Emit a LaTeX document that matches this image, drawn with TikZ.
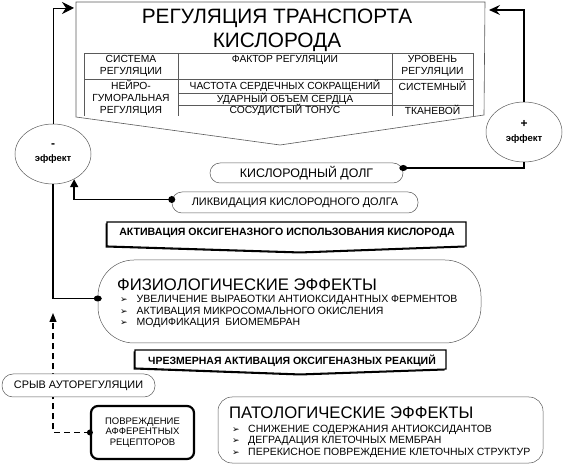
\documentclass[tikz,border=0pt]{standalone}
\usepackage{fontspec}
\setmainfont{Liberation Sans}
\newfontfamily\symfont{DejaVu Sans}
\usetikzlibrary{arrows.meta,positioning,shapes.geometric}
\definecolor{lineGray}{RGB}{90,90,90}
\newcommand{\bul}{{\symfont\fontsize{9}{9}\selectfont\char"27A2}}
\tikzset{
  capsule/.style={draw=lineGray, line width=0.5pt, fill=white, inner sep=0pt},
  effect/.style={draw=lineGray, line width=0.5pt, ellipse, fill=white, minimum width=76pt,
    minimum height=60pt, inner sep=0pt, align=center, font=\bfseries\fontsize{9.5}{14}\selectfont},
  banner/.style={draw=black, line width=1.1pt, fill=white},
  cell/.style={inner sep=0pt, align=center, font=\fontsize{10.3}{12}\selectfont},
  item/.style={inner sep=0pt, anchor=west, font=\fontsize{10.5}{12}\selectfont},
  head/.style={inner sep=0pt, anchor=west, font=\fontsize{16.7}{20}\selectfont},
  link/.style={line width=1.2pt},
  dot/.style={circle, fill=black, inner sep=0pt, minimum size=6pt},
}
\begin{document}
\begin{tikzpicture}[x=1pt,y=-1pt]
  \useasboundingbox (0,0) rectangle (563,465);

  % top banner with table
  \draw[draw=lineGray, line width=0.6pt, fill=white]
    (76,2) -- (485,2) -- (484,115) -- (280,145) -- (76,117) -- cycle;
  \node[inner sep=0pt, align=center, font=\fontsize{20.8}{24}\selectfont] (regtitle) at (277,30)
    {РЕГУЛЯЦИЯ ТРАНСПОРТА\\КИСЛОРОДА};
  \draw[lineGray, line width=0.6pt] (84,116) -- (84,53) -- (473,53) -- (473,116);
  \draw[lineGray, line width=0.6pt] (178,53) -- (178,116) (392,53) -- (392,116);
  \draw[lineGray, line width=0.6pt] (84,79) -- (473,79) (178,93) -- (392,93) (178,105) -- (473,105);
  \node[cell] (sysH) at (131,66) {СИСТЕМА\\РЕГУЛЯЦИИ};
  \node[cell] (facH) at (285,60) {ФАКТОР РЕГУЛЯЦИИ};
  \node[cell] (lvlH) at (432.5,66) {УРОВЕНЬ\\РЕГУЛЯЦИИ};
  \node[cell] (sysA) at (131,98) {НЕЙРО-\\ГУМОРАЛЬНАЯ\\РЕГУЛЯЦИЯ};
  \node[cell] (facA) at (285,86) {ЧАСТОТА СЕРДЕЧНЫХ СОКРАЩЕНИЙ};
  \node[cell] (facB) at (285,98.5) {УДАРНЫЙ ОБЪЕМ СЕРДЦА};
  \node[cell] (facC) at (285,110) {СОСУДИСТЫЙ ТОНУС};
  \node[cell] (lvlA) at (432.5,86) {СИСТЕМНЫЙ};
  \node[cell] (lvlC) at (432.5,110) {ТКАНЕВОЙ};
  \coordinate (regL) at (74,8);
  \coordinate (regR) at (489,10);

  % feedback circles
  \node[effect] (neg) at (53,154) {{\large -}\\эффект};
  \node[effect] (pos) at (524,132) {{\large +}\\эффект};

  % oxygen debt
  \node[capsule, rounded corners=10pt, minimum width=193pt, minimum height=20pt,
    font=\fontsize{12.4}{14}\selectfont] (debt) at (306.5,173) {КИСЛОРОДНЫЙ ДОЛГ};
  \node[capsule, rounded corners=10pt, minimum width=246pt, minimum height=21pt,
    font=\fontsize{10.9}{12}\selectfont] (liq) at (295,202.5) {ЛИКВИДАЦИЯ КИСЛОРОДНОГО ДОЛГА};

  % oxygenase activation banner
  \fill[black] (105.5,223.5) -- (464.5,223.5) -- (464.5,247.5) -- (300,253.5) -- (105.5,247.5) -- cycle;
  \draw[banner] (107,222) -- (466,222) -- (466,246) -- (300,252) -- (107,246) -- cycle;
  \node[inner sep=0pt, font=\bfseries\fontsize{10.6}{12}\selectfont] (oxy) at (287,233)
    {АКТИВАЦИЯ ОКСИГЕНАЗНОГО ИСПОЛЬЗОВАНИЯ КИСЛОРОДА};

  % physiological effects
  \node[capsule, rounded corners=36pt, minimum width=383pt, minimum height=83pt] (physio) at (289.5,301.5) {};
  \node[head] (physhead) at (117,285) {ФИЗИОЛОГИЧЕСКИЕ ЭФФЕКТЫ};
  \foreach \txt [count=\i] in {УВЕЛИЧЕНИЕ ВЫРАБОТКИ АНТИОКСИДАНТНЫХ ФЕРМЕНТОВ,
      АКТИВАЦИЯ МИКРОСОМАЛЬНОГО ОКИСЛЕНИЯ, МОДИФИКАЦИЯ\ \ БИОМЕМБРАН}
    \node[item] (phys\i) at (120,288.5+11.5*\i) {\makebox[16.5pt][l]{\bul}\txt};

  % excessive activation banner
  \fill[black] (133.5,351.5) -- (444.5,351.5) -- (444.5,370.5) -- (300,375.5) -- (133.5,369.5) -- cycle;
  \draw[banner] (135,350) -- (446,350) -- (446,369) -- (300,374) -- (135,368) -- cycle;
  \node[inner sep=0pt, font=\bfseries\fontsize{10.5}{12}\selectfont] (excess) at (292,361)
    {ЧРЕЗМЕРНАЯ АКТИВАЦИЯ ОКСИГЕНАЗНЫХ РЕАКЦИЙ};

  % damage branch
  \node[draw=black, line width=2.2pt, rounded corners=7pt, fill=white, minimum width=103pt,
    minimum height=53pt, inner sep=0pt, align=center, font=\fontsize{9.5}{10.5}\selectfont] (dmg)
    at (142.5,432.5) {ПОВРЕЖДЕНИЕ\\АФФЕРЕНТНЫХ\\РЕЦЕПТОРОВ};
  \coordinate (upTip) at (53,313);
  \draw[line width=1.2pt, dash pattern=on 6pt off 4pt, -{Triangle[length=9pt,width=7pt]}]
    (dmg.west) -| (upTip);
  \node[dot] at (dmg.west) {};
  \node[capsule, rounded corners=11pt, minimum width=153pt, minimum height=23pt,
    font=\fontsize{10.9}{12}\selectfont] (fail) at (78.5,385.5) {СРЫВ АУТОРЕГУЛЯЦИИ};

  % pathological effects
  \node[capsule, rounded corners=14pt, minimum width=325pt, minimum height=66pt] (patho) at (380.5,430) {};
  \node[head] (pathhead) at (229,413) {ПАТОЛОГИЧЕСКИЕ ЭФФЕКТЫ};
  \foreach \txt [count=\i] in {СНИЖЕНИЕ СОДЕРЖАНИЯ АНТИОКСИДАНТОВ,
      ДЕГРАДАЦИЯ КЛЕТОЧНЫХ МЕМБРАН, ПЕРЕКИСНОЕ ПОВРЕЖДЕНИЕ КЛЕТОЧНЫХ СТРУКТУР}
    \node[item] (path\i) at (232,418+11.5*\i) {\makebox[16pt][l]{\bul}\txt};

  % connectors
  \draw[line width=0.9pt, -{Stealth[length=12pt,width=12pt,inset=4pt]}] (neg.north) |- (regL);
  \draw[link, -{Stealth[length=11pt,width=10pt,inset=4pt]}] (pos.north) |- (regR);
  \draw[link] (neg.south) |- ([yshift=3pt]physio.west);
  \node[dot, minimum width=8pt, minimum height=6pt, ellipse] at ([yshift=3pt]physio.west) {};
  \draw[link] ([yshift=5pt]debt.east) -| (pos.south);
  \node[dot, minimum width=8pt, minimum height=6pt, ellipse] at ([yshift=5pt]debt.east) {};
  \draw[line width=1.8pt, -{Triangle[length=8pt,width=8pt]}] ([yshift=3pt]liq.west) -| (neg.-50);
  \node[dot, minimum size=7pt] at ([yshift=3pt]liq.west) {};
\end{tikzpicture}
\end{document}
